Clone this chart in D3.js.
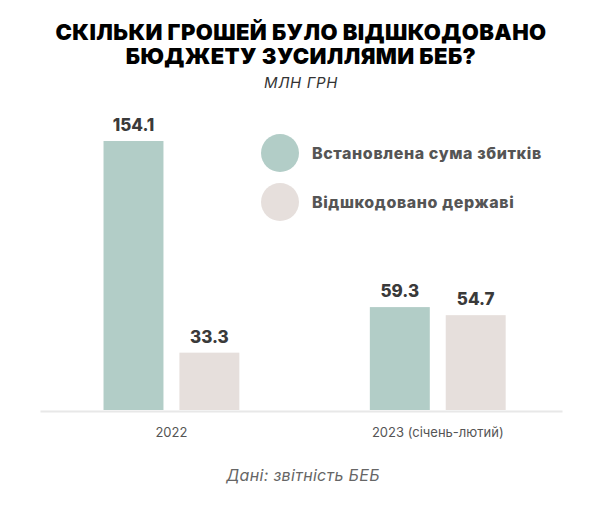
<!DOCTYPE html>
<html lang="uk">
<head>
<meta charset="UTF-8">
<title>Скільки грошей було відшкодовано</title>
<script src="https://cdn.jsdelivr.net/npm/d3@7"></script>
<style>
  body { margin: 0; background: #fff; }
  svg { display: block; font-family: "Inter", "Open Sans", sans-serif; }
</style>
</head>
<body>
<script>
// дані
var years = ["2022", "2023 (січень-лютий)"];
var seriesNames = ["Встановлена сума збитків", "Відшкодовано державі"];
var established = [154.1, 59.3];
var compensated = [33.3, 54.7];

var w = 600, h = 508;
var baseY = 411, topY = 141;
var colors = ["#b2cdc7", "#e6dfdc"];

var rows = years.map(function(y, i) {
    return { year: y, values: [established[i], compensated[i]] };
});

var svg = d3.select("body").append("svg")
    .attr("width", w)
    .attr("height", h);

// заголовок
var title = svg.append("text")
    .attr("text-anchor", "middle")
    .attr("font-weight", 900)
    .attr("font-size", 22)
    .attr("letter-spacing", 0.4)
    .attr("fill", "#000");
title.append("tspan").attr("x", 301).attr("y", 40).text("СКІЛЬКИ ГРОШЕЙ БУЛО ВІДШКОДОВАНО");
title.append("tspan").attr("x", 301).attr("y", 64).text("БЮДЖЕТУ ЗУСИЛЛЯМИ БЕБ?");

svg.append("text")
    .attr("x", 301).attr("y", 88)
    .attr("text-anchor", "middle")
    .attr("font-style", "italic")
    .attr("font-size", 15)
    .attr("letter-spacing", 0.6)
    .attr("fill", "#333")
    .text("МЛН ГРН");

var x0 = d3.scaleBand()
    .domain(years)
    .range([40, 562])
    .paddingInner(0.49)
    .paddingOuter(0.225)
    .align(0.53);

var x1 = d3.scaleBand()
    .domain([0, 1])
    .range([0, x0.bandwidth()])
    .paddingInner(0.21);

var y = d3.scaleLinear()
    .domain([0, d3.max(established)])
    .range([baseY, topY]);

// вісь
var xAxis = svg.append("g")
    .attr("transform", "translate(0," + baseY + ")")
    .call(d3.axisBottom(x0).tickSize(0).tickPadding(17));
xAxis.select(".domain").attr("stroke", "#e8e8e8").attr("stroke-width", 2);
xAxis.selectAll("text")
    .attr("font-size", 13)
    .attr("fill", "#555")
    .attr("font-family", "Inter, sans-serif");

var groups = svg.selectAll("g.year")
    .data(rows)
    .enter()
    .append("g")
    .attr("class", "year")
    .attr("transform", function(d) { return "translate(" + x0(d.year) + ",0)"; });

groups.selectAll("rect")
    .data(function(d) { return d.values; })
    .enter()
    .append("rect")
    .attr("x", function(d, i) { return x1(i); })
    .attr("y", function(d) { return y(d); })
    .attr("width", x1.bandwidth())
    .attr("height", function(d) { return baseY - 1 - y(d); })
    .attr("fill", function(d, i) { return colors[i]; });

groups.selectAll("text.val")
    .data(function(d) { return d.values; })
    .enter()
    .append("text")
    .attr("class", "val")
    .attr("x", function(d, i) { return x1(i) + x1.bandwidth() / 2; })
    .attr("y", function(d) { return y(d) - 10; })
    .attr("text-anchor", "middle")
    .attr("font-weight", 800)
    .attr("font-size", 17)
    .attr("fill", "#3a3a3a")
    .text(function(d) { return d3.format(".1f")(d); });

// легенда
var legend = svg.selectAll("g.legend")
    .data(seriesNames)
    .enter()
    .append("g")
    .attr("class", "legend")
    .attr("transform", function(d, i) { return "translate(280," + (153 + i * 49) + ")"; });

legend.append("circle")
    .attr("r", 19)
    .attr("fill", function(d, i) { return colors[i]; });

legend.append("text")
    .attr("x", 32)
    .attr("y", 6)
    .attr("font-weight", 800)
    .attr("font-size", 16)
    .attr("letter-spacing", 0.6)
    .attr("fill", "#555")
    .text(function(d) { return d; });

svg.append("text")
    .attr("x", 303).attr("y", 481)
    .attr("text-anchor", "middle")
    .attr("font-style", "italic")
    .attr("font-size", 16)
    .attr("letter-spacing", 0.3)
    .attr("fill", "#666")
    .text("Дані: звітність БЕБ");
</script>
</body>
</html>
